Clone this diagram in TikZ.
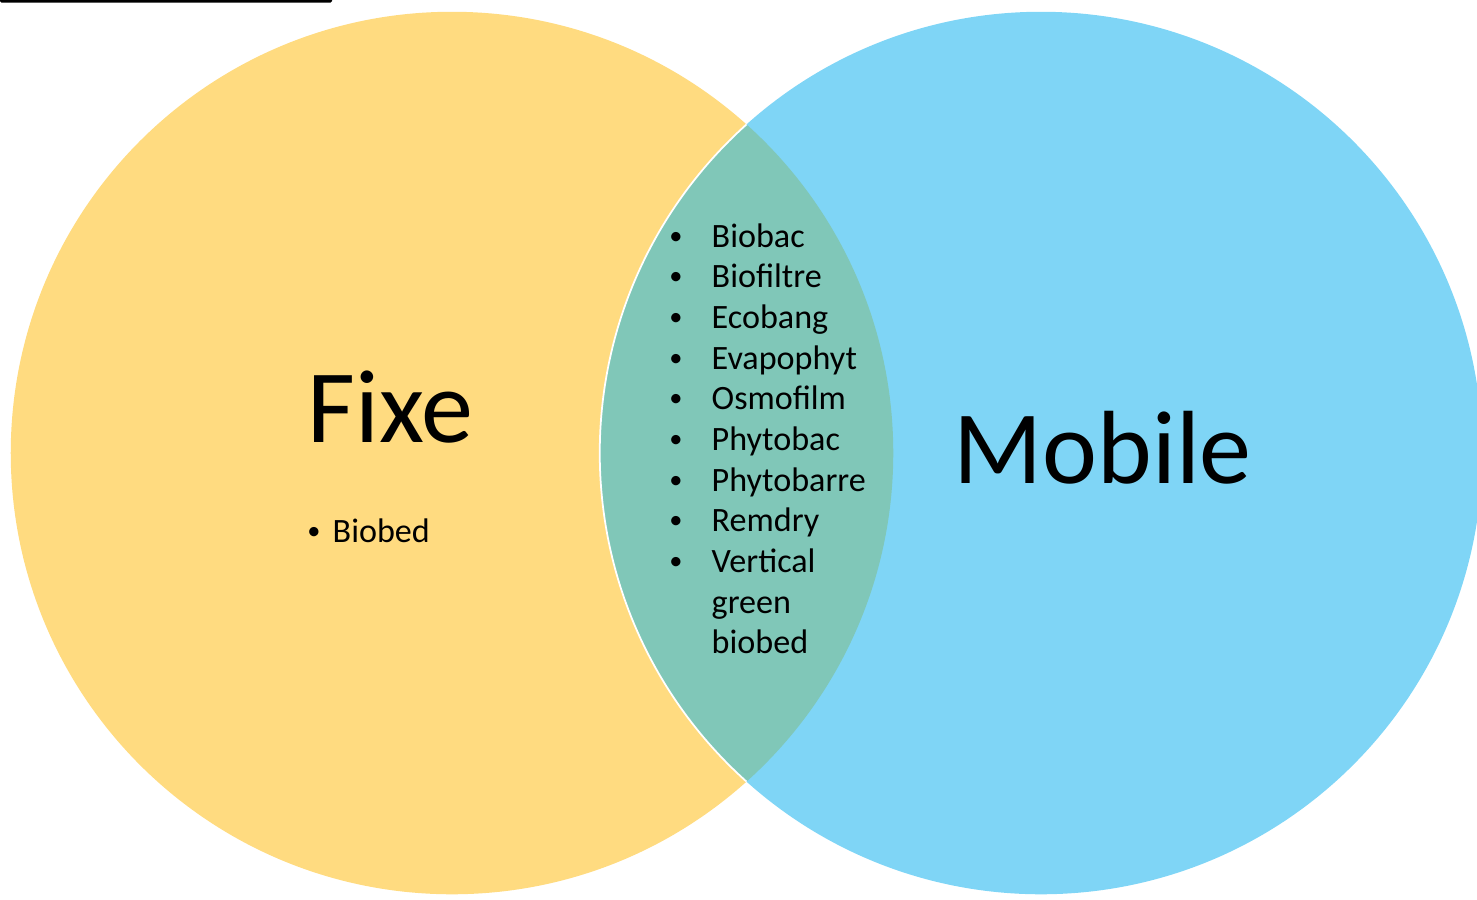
\documentclass[tikz,border=0pt]{standalone}
\usepackage{fontspec}
\setmainfont{Carlito}
\definecolor{fixeyellow}{HTML}{FFDB80}
\definecolor{mobileblue}{HTML}{7FD5F6}
\definecolor{lensgreen}{HTML}{80C7B8}
\begin{document}
\begin{tikzpicture}[x=0.01cm,y=-0.01cm]
	\tikzstyle{every node}+=[inner sep=0pt]
	\tikzstyle{title}=[anchor=base west,font=\fontsize{29.6}{35}\selectfont]
	\tikzstyle{item}=[anchor=base west,font=\fontsize{9.7}{11.6}\selectfont]
	\tikzstyle{dot}=[anchor=base,font=\fontsize{7.5}{9}\selectfont]
	\useasboundingbox (0,0) rectangle (1477,899);
	% the two sets
	\fill [fixeyellow] (452,453) circle [radius=4.41cm];
	\fill [mobileblue] (1041,453) circle [radius=4.41cm];
	\begin{scope}
		\clip (452,453) circle [radius=4.41cm];
		\fill [lensgreen] (1041,453) circle [radius=4.41cm];
		\draw [white, line width=0.5pt] (1041,453) circle [radius=4.41cm];
	\end{scope}
	\fill [black, rounded corners=0.4pt] (0,-2) rectangle (332,2.5);
	% titles
	\node [title] (fixe) at (307,442) {Fixe};
	\node [title] (mobile) at (953,483) {Mobile};
	% left set only
	\node [dot] (dot0) at (314,539) {•};
	\node [item] (biobed) at (332,542) {Biobed};
	% both sets
	\foreach \name [count=\i] in {Biobac,Biofiltre,Ecobang,Evapophyt,Osmofilm,Phytobac,Phytobarre,Remdry,Vertical}
	{
		\node [dot] (dot\i) at (676,{203.3+40.7*\i}) {•};
		\node [item] (item\i) at (711,{206.3+40.7*\i}) {\name};
	}
	\node [item] (green) at (711,613) {green};
	\node [item] (biobedb) at (711,653) {biobed};
\end{tikzpicture}
\end{document}
